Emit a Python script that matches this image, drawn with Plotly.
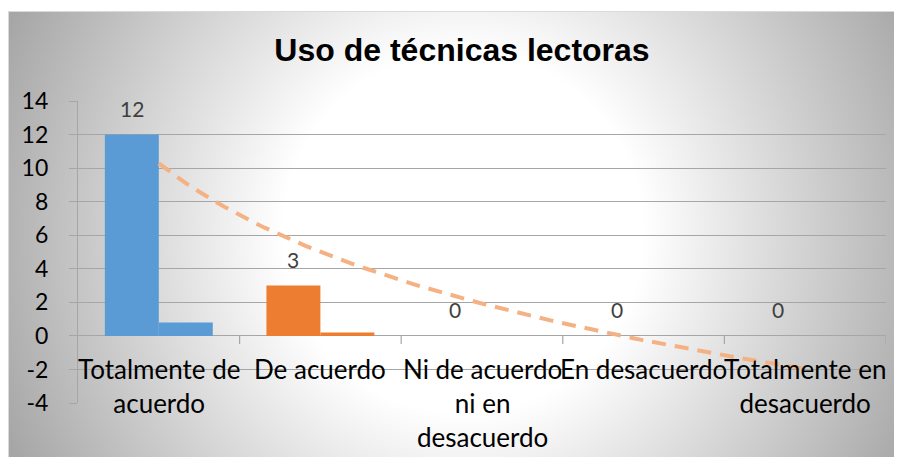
import base64
import numpy as np
import plotly.graph_objects as go

# ---- data ----
categories = ["Totalmente de acuerdo", "De acuerdo", "Ni de acuerdo ni en desacuerdo",
              "En desacuerdo", "Totalmente en desacuerdo"]
category_labels = ["Totalmente de<br>acuerdo", "De acuerdo", "Ni de acuerdo<br>ni en<br>desacuerdo",
                   "En desacuerdo", "Totalmente en<br>desacuerdo"]
frecuencia = [12, 3, 0, 0, 0]
porcentaje = [0.8, 0.2, 0, 0, 0]
point_colors = ["#5B9BD5", "#ED7D31", "#A5A5A5", "#FFC000", "#4472C4"]
y_ticks = [-4, -2, 0, 2, 4, 6, 8, 10, 12, 14]
y_tick_text = ["-4", "-2", "0", "2", "4", "6", "8", "10", "12", "14"]
title_text = "Uso de técnicas lectoras"

# ---- geometry (layout); page body adds 8px offset ----
W, H = 894, 449
ML, MR, MT, MB = 70, 16, 93, 54
PW, PH = W - ML - MR, H - MT - MB
GRID = "#a6a6a6"
FONT = "Lato"
BARGAP = 0.332

x = np.arange(1, len(categories) + 1)

# logarithmic trendline (Excel style) fitted to frecuencia
b, a = np.polyfit(np.log(x), np.array(frecuencia, dtype=float), 1)
xt = np.linspace(1, len(categories), 80)
yt = a + b * np.log(xt)

fig = go.Figure()
fig.add_trace(go.Bar(x=x, y=frecuencia, marker=dict(color=point_colors, line=dict(width=0)),
                     name="Frecuencia", hoverinfo="skip"))
fig.add_trace(go.Bar(x=x, y=porcentaje, marker=dict(color=point_colors, line=dict(width=0)),
                     name="Porcentaje", hoverinfo="skip"))
fig.add_trace(go.Scatter(x=xt, y=yt, mode="lines",
                         line=dict(color="#F4B183", width=4, dash="14px,9px"),
                         hoverinfo="skip", name="Tendencia"))

# chart-area background: radial grey gradient
top = 3
cw, ch = W, H - top
svg = (f"<svg xmlns='http://www.w3.org/2000/svg' width='{cw}' height='{ch}' viewBox='0 0 {cw} {ch}'>"
       "<defs><radialGradient id='g' gradientUnits='userSpaceOnUse' cx='455' cy='222' r='500'>"
       "<stop offset='0' stop-color='#ffffff'/><stop offset='0.36' stop-color='#ffffff'/>"
       "<stop offset='1' stop-color='#a6a6a6'/></radialGradient></defs>"
       f"<rect x='0.5' y='0.5' width='{cw+5}' height='{ch+5}' fill='url(#g)' stroke='#d9d9d9'/></svg>")
src = "data:image/svg+xml;base64," + base64.b64encode(svg.encode()).decode()
fig.add_layout_image(dict(source=src, xref="paper", yref="paper",
                          x=-ML / PW, y=(H - MB - top) / PH,
                          sizex=cw / PW, sizey=ch / PH, xanchor="left", yanchor="top",
                          sizing="stretch", layer="below"))

annotations = []
# data labels for first series (above first bar of each group)
half = (1 - BARGAP) / 4
for xi, v in zip(x, frecuencia):
    annotations.append(dict(x=xi - half, y=v, xref="x", yref="y", text=str(v), showarrow=False,
                            yanchor="middle", yshift=26,
                            font=dict(family=FONT, size=21, color="#404040")))
# category labels next to the zero axis
for xi, lab in zip(x, category_labels):
    annotations.append(dict(x=xi, y=0, xref="x", yref="y", text=lab, showarrow=False,
                            yanchor="top", yshift=-15,
                            font=dict(family=FONT, size=26, color="#000000")))

shapes = []
for k in range(1, len(categories) + 1):
    shapes.append(dict(type="line", xref="x", yref="y", x0=k + 0.5, x1=k + 0.5,
                       ysizemode="pixel", yanchor=0, y0=0, y1=-8,
                       line=dict(color=GRID, width=1.2)))

fig.update_layout(
    width=W, height=H,
    margin=dict(l=ML, r=MR, t=MT, b=MB, autoexpand=False),
    paper_bgcolor="#ffffff", plot_bgcolor="rgba(0,0,0,0)",
    barmode="group", bargap=BARGAP, bargroupgap=0,
    showlegend=False,
    title=dict(text=title_text, xref="paper", x=(454 - ML) / PW, xanchor="center",
               yref="container", y=1 - 42 / H, yanchor="middle",
               font=dict(family="Liberation Sans", size=32, color="#000000", weight="bold")),
    xaxis=dict(range=[0.5, len(categories) + 0.5], showticklabels=False, showgrid=False,
               zeroline=False, showline=False, ticks=""),
    yaxis=dict(range=[-4, 14], tickvals=y_ticks, ticktext=y_tick_text,
               showgrid=True, gridcolor=GRID, gridwidth=1.2,
               zeroline=True, zerolinecolor=GRID, zerolinewidth=1.2,
               showline=True, linecolor=GRID, linewidth=1.2,
               ticks="outside", ticklen=8, tickcolor=GRID, tickwidth=1.2,
               ticklabelstandoff=16,
               tickfont=dict(family=FONT, size=23, color="#000000")),
    annotations=annotations, shapes=shapes,
)

fig.write_html("out.html")
